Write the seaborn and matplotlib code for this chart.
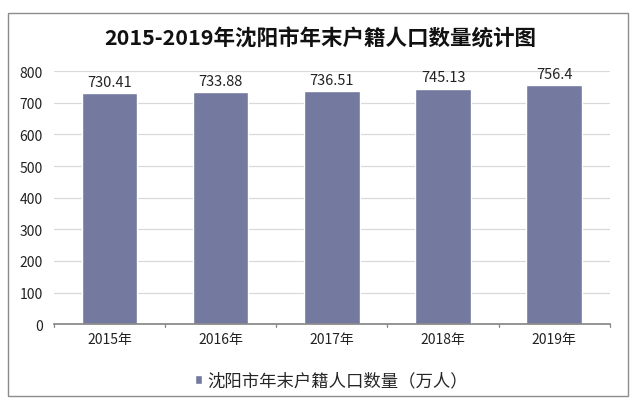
import matplotlib
matplotlib.use("Agg")
import matplotlib.pyplot as plt
import seaborn as sns
import pandas as pd
from matplotlib.patches import Rectangle

years = ["2015年", "2016年", "2017年", "2018年", "2019年"]
values = [730.41, 733.88, 736.51, 745.13, 756.4]
value_labels = ["730.41", "733.88", "736.51", "745.13", "756.4"]
series_name = "沈阳市年末户籍人口数量（万人）"
title = "2015-2019年沈阳市年末户籍人口数量统计图"

sns.set_theme(style="white")
plt.rcParams['font.family'] = ['Noto Sans CJK SC', 'DejaVu Sans']

df = pd.DataFrame({"year": years, "value": values, "series": series_name})

fig = plt.figure(figsize=(6.4, 4.1), dpi=100)
fig.patch.set_facecolor("white")
ax = fig.add_axes([0.084, 0.207, 0.869, 0.617])

bar_color = "#7479A0"
sns.barplot(data=df, x="year", y="value", hue="series", palette=[bar_color],
            width=0.5, ax=ax, saturation=1, legend=True)

ax.set_ylim(0, 800)
ax.set_yticks(range(0, 900, 100))
ax.yaxis.grid(True, color="#D9D9D9", linewidth=0.9)
ax.set_axisbelow(True)
ax.set_xlabel("")
ax.set_ylabel("")
for s in ["top", "right", "left"]:
    ax.spines[s].set_visible(False)
ax.spines["bottom"].set_color("#888888")
ax.tick_params(axis="y", labelsize=10, colors="#222222", length=0, pad=8)
ax.tick_params(axis="x", labelsize=10, colors="#222222", length=0, pad=6)
ax.set_xlim(-0.5, 4.5)
for xpos in [-0.5, 0.5, 1.5, 2.5, 3.5, 4.5]:
    ax.plot([xpos, xpos], [0, -8], color="#888888", lw=0.9, clip_on=False,
            transform=ax.transData)

for i, (v, lab) in enumerate(zip(values, value_labels)):
    ax.text(i, v + 14, lab, ha="center", va="bottom", fontsize=10.5, color="#222222")

leg = ax.legend(loc="upper center", bbox_to_anchor=(0.5, -0.125), frameon=False,
                fontsize=12.5, handlelength=0.4, handleheight=0.4, handletextpad=0.3)

fig.text(0.5, 0.905, title, ha="center", va="center", fontsize=15.5,
         fontweight="bold", color="#111111")

fig.patches.append(Rectangle((0.013, 0.032), 0.968, 0.935, transform=fig.transFigure,
                             fill=False, edgecolor="#8C8C8C", linewidth=1.0))

fig.savefig("out.png", dpi=100, facecolor="white")
